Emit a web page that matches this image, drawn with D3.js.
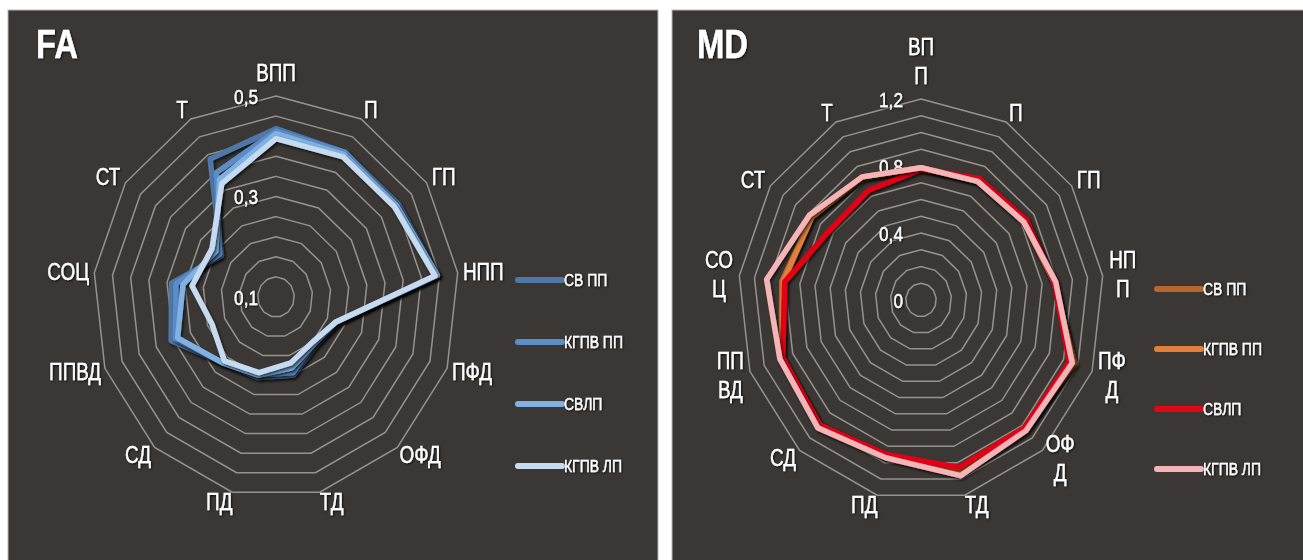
<!DOCTYPE html>
<html><head><meta charset="utf-8">
<script src="https://cdn.jsdelivr.net/npm/d3@7"></script>
<style>
html,body{margin:0;padding:0;background:#fff;}
svg{display:block;}
text{font-family:"Liberation Sans Narrow","Arial Narrow","Liberation Sans",Arial,sans-serif;fill:#fff;stroke:#fff;stroke-width:0.35px;}
</style></head><body>
<svg id="chart" width="1303" height="560"></svg>
<script>
// ---------- data ----------
const categories = ["ВПП","П","ГП","НПП","ПФД","ОФД","ТД","ПД","СД","ППВД","СОЦ","СТ","Т"];
const mdCategoryLines = [["ВП","П"],["П"],["ГП"],["НП","П"],["ПФ","Д"],["ОФ","Д"],["ТД"],["ПД"],["СД"],["ПП","ВД"],["СО","Ц"],["СТ"],["Т"]];
const seriesNames = ["СВ ПП","КГПВ ПП","СВЛП","КГПВ ЛП"];

// FA panel
const faSvPP   = [0.435,0.425,0.425,0.455,0.245,0.230,0.260,0.265,0.275,0.345,0.330,0.245,0.410];
const faKgpvPP = [0.430,0.425,0.420,0.455,0.240,0.225,0.255,0.260,0.275,0.335,0.320,0.250,0.380];
const faSvLP   = [0.425,0.420,0.420,0.455,0.240,0.225,0.245,0.260,0.275,0.330,0.305,0.260,0.365];
const faKgpvLP = [0.415,0.415,0.415,0.450,0.240,0.220,0.235,0.255,0.270,0.250,0.285,0.270,0.355];
const faTickValues = [0.1,0.3,0.5];
const faTickLabels = ["0,1","0,3","0,5"];

// MD panel
const mdSvPP   = [0.79,0.81,0.83,0.88,1.08,1.03,1.05,0.96,1.00,0.98,0.92,0.87,0.82];
const mdKgpvPP = [0.79,0.80,0.82,0.88,1.07,1.03,1.05,0.96,1.00,0.98,0.91,0.87,0.83];
const mdSvLP   = [0.78,0.82,0.84,0.88,1.04,1.02,1.03,0.95,1.00,0.97,0.90,0.73,0.74];
const mdKgpvLP = [0.79,0.80,0.82,0.89,1.06,1.04,1.08,0.97,1.02,0.99,1.02,0.89,0.83];
const mdTickValues = [0,0.4,0.8,1.2];
const mdTickLabels = ["0","0,4","0,8","1,2"];

// ---------- styles ----------
const faColors = ["#4f78a8","#5b8dc8","#7fb2e2","#c6daf2"];
const mdColors = ["#b8662c","#e0803a","#e30613","#f5b5b8"];
const panelFill = "#3b3734";
const NARROW = 0.82;

const svg = d3.select("#chart");
const defs = svg.append("defs");
const f1 = defs.append("filter").attr("id","lineShadow").attr("x","-20%").attr("y","-20%").attr("width","140%").attr("height","140%");
f1.append("feDropShadow").attr("dx",1.5).attr("dy",2).attr("stdDeviation",1.4).attr("flood-color","#000").attr("flood-opacity",0.7);
const f2 = defs.append("filter").attr("id","textShadow").attr("x","-20%").attr("y","-20%").attr("width","140%").attr("height","140%");
f2.append("feDropShadow").attr("dx",1).attr("dy",1).attr("stdDeviation",1).attr("flood-color","#000").attr("flood-opacity",0.8);

// condense text horizontally (narrow face look)
function narrow(sel){
  sel.each(function(){
    const L = this.getComputedTextLength();
    d3.select(this).attr("textLength",L*NARROW).attr("lengthAdjust","spacingAndGlyphs");
  });
  return sel;
}

function panel(o){
  const g = svg.append("g");
  g.append("rect").attr("x",o.x).attr("y",10).attr("width",o.w).attr("height",560)
    .attr("fill",panelFill).attr("stroke","#b8b8b8").attr("stroke-width",1);
  narrow(g.append("text").attr("x",o.titleX).attr("y",58).text(o.title)
    .style("font-size","40px").style("font-weight","bold").attr("filter","url(#textShadow)"));

  const n = categories.length;
  const r = d3.scaleLinear().domain([o.min,o.max]).range([0,1]);
  const a = d3.scaleLinear().domain([0,n]).range([0,2*Math.PI]);
  const pt = (v,i)=>[o.cx + o.rx*r(v)*Math.sin(a(i)), o.cy - o.ry*r(v)*Math.cos(a(i))];
  const line = d3.line().curve(d3.curveLinearClosed);

  const nr = Math.round((o.max-o.min)/o.step);
  const rings = d3.range(1,nr+1).map(k=>o.min+k*o.step);
  g.selectAll(".ring").data(rings).join("path").attr("class","ring")
    .attr("d",v=>line(categories.map((c,i)=>pt(v,i))))
    .attr("fill","none").attr("stroke","#959391").attr("stroke-width",1.5);

  // tick labels
  narrow(g.selectAll(".tick").data(o.tickValues).join("text").attr("class","tick")
    .attr("x",o.cx-18).attr("y",v=>o.cy - o.ry*r(v)).attr("dy","0.36em")
    .attr("text-anchor","end").style("font-size","21px").attr("filter","url(#textShadow)")
    .text((v,k)=>o.tickLabels[k]));

  // series
  o.series.forEach(s=>{
    g.append("path").attr("d",line(s.values.map((v,i)=>pt(v,i))))
      .attr("fill","none").attr("stroke",s.color).attr("stroke-width",5.5)
      .attr("stroke-linejoin","round").attr("filter","url(#lineShadow)");
  });

  // category labels
  o.labels.forEach((lines,i)=>{
    const [vx,vy] = pt(o.max,i);
    const s = Math.sin(a(i)), c = Math.cos(a(i));
    const anchor = Math.abs(s)<0.05 ? "middle" : (s>0 ? "start" : "end");
    const x = vx + s*9;
    const lh = 29, bh = (lines.length-1)*lh;
    const yc = vy - c*10 - (Math.abs(s)<0.05 ? (13 + bh/2) : 0);
    const tg = g.append("g").attr("filter","url(#textShadow)");
    const texts = lines.map((t,k)=>tg.append("text").attr("y",yc+(k-(lines.length-1)/2)*lh)
      .attr("dy","0.36em").style("font-size","23px").attr("text-anchor","middle").text(t));
    texts.forEach(t=>narrow(t));
    const bw = d3.max(texts,t=>t.node().getComputedTextLength())*NARROW;
    const mx = anchor==="middle" ? x : (anchor==="start" ? x+bw/2 : x-bw/2);
    texts.forEach(t=>t.attr("x",mx));
  });

  // legend
  o.series.forEach((s,k)=>{
    const y = o.legY + k*o.legDy;
    g.append("line").attr("x1",o.legX).attr("x2",o.legX+44).attr("y1",y).attr("y2",y)
      .attr("stroke",s.color).attr("stroke-width",6).attr("stroke-linecap","round");
    narrow(g.append("text").attr("x",o.legX+46).attr("y",y).attr("dy","0.36em")
      .style("font-size","17px").attr("filter","url(#textShadow)").text(s.name));
  });
}

panel({x:8,w:650,title:"FA",titleX:36,cx:276,cy:297,rx:183,ry:201,min:0.1,max:0.5,step:0.04,
  tickValues:faTickValues,tickLabels:faTickLabels,labels:categories.map(c=>[c]),
  series:[faSvPP,faKgpvPP,faSvLP,faKgpvLP].map((v,k)=>({name:seriesNames[k],values:v,color:faColors[k]})),
  legX:518,legY:280,legDy:62});

panel({x:672,w:640,title:"MD",titleX:697,cx:921,cy:300,rx:183,ry:201,min:0,max:1.2,step:0.1,
  tickValues:mdTickValues,tickLabels:mdTickLabels,labels:mdCategoryLines,
  series:[mdSvPP,mdKgpvPP,mdSvLP,mdKgpvLP].map((v,k)=>({name:seriesNames[k],values:v,color:mdColors[k]})),
  legX:1157,legY:289,legDy:60});
</script>
</body></html>
